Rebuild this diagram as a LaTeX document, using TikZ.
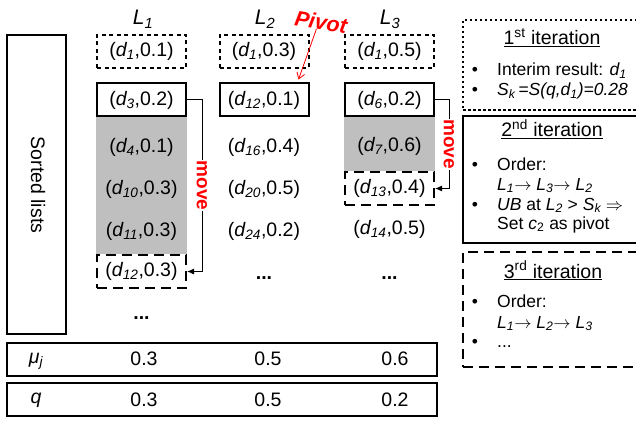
\documentclass[tikz,border=0pt]{standalone}
\usepackage{fontspec}
\setmainfont{Liberation Sans}
\usetikzlibrary{arrows.meta,backgrounds}
\definecolor{cellgray}{HTML}{BFBFBF}
\newcommand{\dcell}[2]{(\textit{d\textsubscript{#1}},#2)}
\newcommand{\Lsb}[1]{\textit{L\textsubscript{#1}}}
\newcommand{\rarr}{\ensuremath{\rightarrow}}
\newcommand{\Rarr}{\ensuremath{\Rightarrow}}
\begin{document}
\begin{tikzpicture}[x=1pt,y=-1pt,
  cell/.style={minimum width=89pt, minimum height=33pt, inner sep=0pt, font=\fontsize{19.5}{23}\selectfont},
  dotcell/.style={cell, draw, line width=2pt, dash pattern=on 4pt off 3.5pt},
  solidcell/.style={cell, draw, line width=2pt},
  dashcell/.style={cell, draw, line width=2pt, dash pattern=on 10pt off 6pt},
  dots/.style={anchor=base, inner sep=0pt, font=\fontsize{19.5}{23}\selectfont\bfseries},
  header/.style={anchor=base, inner sep=0pt, font=\fontsize{21}{24}\selectfont},
  movearrow/.style={line width=1pt, -{Latex[length=7pt,width=6pt]}},
  movelabel/.style={rotate=-90, fill=white, inner sep=0.5pt, text=red, font=\fontsize{19}{22}\selectfont\bfseries},
  pivotlabel/.style={rotate=-10, inner sep=1pt, text=red, font=\fontsize{21.5}{24}\selectfont\bfseries\itshape},
  boxtitle/.style={anchor=base, inner sep=0pt, font=\fontsize{19.5}{23}\selectfont},
  boxtext/.style={anchor=base west, inner sep=0pt, font=\fontsize{17.5}{21}\selectfont},
  bullet/.style={anchor=base, inner sep=0pt, font=\fontsize{17.5}{21}\selectfont},
  valtext/.style={inner sep=0pt, font=\fontsize{19.5}{23}\selectfont},
  framebox/.style={draw, line width=2.3pt, inner sep=0pt}
]
\useasboundingbox (0,0) rectangle (636,422);
\clip (0,0) rectangle (636,422);

% headers
\node[header] (h1) at (143,25) {\Lsb{1}};
\node[header] (h2) at (265,25) {\Lsb{2}};
\node[header] (h3) at (390,25) {\Lsb{3}};

% sorted lists box
\node[framebox, line width=2pt, minimum width=59pt, minimum height=299pt] (sorted) at (36.5,184.5) {};
\node[rotate=-90, font=\fontsize{19.5}{23}\selectfont] (sortedtxt) at (38,185) {Sorted lists};

% column L1
\node[dotcell] (c11) at (141.5,51.5) {\dcell{1}{0.1}};
\node[solidcell] (c12) at (141.5,100) {\dcell{3}{0.2}};
\node[cell] (c13) at (141.5,147) {\dcell{4}{0.1}};
\node[cell] (c14) at (141.5,189) {\dcell{10}{0.3}};
\node[cell] (c15) at (141.5,231) {\dcell{11}{0.3}};
\node[dashcell] (c16) at (141.5,271.5) {\dcell{12}{0.3}};
\node[dots] (c17) at (141.5,319) {...};

% column L2
\node[dotcell] (c21) at (264,51.5) {\dcell{1}{0.3}};
\node[solidcell] (c22) at (264,100) {\dcell{12}{0.1}};
\node[cell] (c23) at (264,147) {\dcell{16}{0.4}};
\node[cell] (c24) at (264,189) {\dcell{20}{0.5}};
\node[cell] (c25) at (264,231) {\dcell{24}{0.2}};
\node[dots] (c26) at (264,279) {...};

% column L3
\node[dotcell] (c31) at (389.5,51.5) {\dcell{1}{0.5}};
\node[solidcell] (c32) at (389.5,100) {\dcell{6}{0.2}};
\node[cell] (c33) at (389.5,146) {\dcell{7}{0.6}};
\node[dashcell] (c34) at (389.5,188.5) {\dcell{13}{0.4}};
\node[cell] (c35) at (389.5,229) {\dcell{14}{0.5}};
\node[dots] (c36) at (389.5,279) {...};

% gray regions
\begin{pgfonlayer}{background}
\fill[cellgray] (c12.south west) rectangle (c16.north east);
\fill[cellgray] (c32.south west) rectangle (c34.north east);
\end{pgfonlayer}

% move arrows
\draw[movearrow] (c12.east) -- ++(15,0) |- node[movelabel, pos=0.25] (mv1) {move} (c16.east);
\draw[movearrow] (c32.east) -- ++(14,0) |- node[movelabel, pos=0.25] (mv3) {move} (c34.east);

% pivot
\node[pivotlabel] (pivot) at (321,22) {Pivot};
\draw[red, line width=0.8pt, -{Straight Barb[length=6pt,width=8pt]}] ([xshift=-3pt,yshift=2pt]pivot.south) -- ([xshift=-11pt,yshift=3pt]c22.north east);

% bottom rows
\node[framebox, minimum width=430pt, minimum height=33pt] (murow) at (222,359.5) {};
\node[framebox, minimum width=430pt, minimum height=33pt] (qrow) at (222,399.5) {};
\node[valtext] (mulab) at (36,361) {\textit{μ\textsubscript{j}}};
\node[valtext] (qlab) at (36,400) {\textit{q}};
\node[valtext] (mu1) at (144,358.5) {0.3};
\node[valtext] (mu2) at (268,358.5) {0.5};
\node[valtext] (mu3) at (395,358.5) {0.6};
\node[valtext] (q1) at (144,399.5) {0.3};
\node[valtext] (q2) at (268,399.5) {0.5};
\node[valtext] (q3) at (395,399.5) {0.2};

% iteration boxes
\node[draw, line width=1.4pt, dash pattern=on 2.5pt off 2.5pt, minimum width=182pt, minimum height=90pt, inner sep=0pt] (it1) at (554,65) {};
\node[draw, line width=1.6pt, minimum width=182pt, minimum height=127pt, inner sep=0pt] (it2) at (554,179.5) {};
\node[draw, line width=1.6pt, dash pattern=on 10pt off 6pt, minimum width=182pt, minimum height=115pt, inner sep=0pt] (it3) at (554,309.5) {};

% box 1
\node[boxtitle] (t1) at (552,45) {\underline{1\textsuperscript{st} iteration}};
\node[bullet] (b11) at (475,76) {•};
\node[boxtext] (x11) at (497,76) {Interim result: \textit{d\textsubscript{1}}};
\node[bullet] (b12) at (475,96) {•};
\node[boxtext] (x12) at (497,96) {\textit{S\textsubscript{k}\,=S(q,d\textsubscript{1})=0.28}};

% box 2
\node[boxtitle] (t2) at (552,137) {\underline{2\textsuperscript{nd} iteration}};
\node[bullet] (b21) at (475,171) {•};
\node[boxtext] (x21) at (497,171) {Order:};
\node[boxtext] (x22) at (497,190) {\Lsb{1}\rarr\ \Lsb{3}\rarr\ \Lsb{2}};
\node[bullet] (b22) at (475,210) {•};
\node[boxtext] (x23) at (497,210) {\textit{UB} at \Lsb{2} > \textit{S\textsubscript{k}} \Rarr};
\node[boxtext] (x24) at (497,229) {Set \textit{c}\textsubscript{2} as pivot};

% box 3
\node[boxtitle] (t3) at (553,278) {\underline{3\textsuperscript{rd} iteration}};
\node[bullet] (b31) at (475,307) {•};
\node[boxtext] (x31) at (497,307) {Order:};
\node[boxtext] (x32) at (497,328) {\Lsb{1}\rarr\ \Lsb{2}\rarr\ \Lsb{3}};
\node[bullet] (b32) at (475,347) {•};
\node[boxtext] (x33) at (497,347) {...};
\end{tikzpicture}
\end{document}
